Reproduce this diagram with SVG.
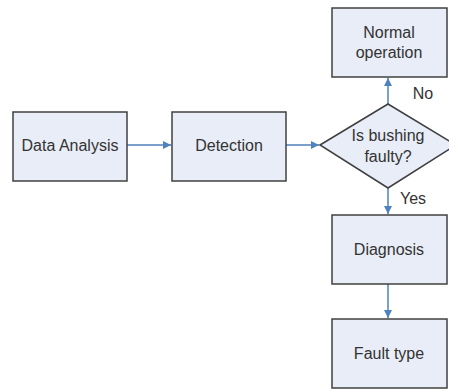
<svg xmlns="http://www.w3.org/2000/svg" width="449" height="389" viewBox="0 0 449 389">
<defs>
<style>
.box{fill:#e8edf7;stroke:#404040;stroke-width:1.5}
.t{font-family:"Liberation Sans",Arial,sans-serif;font-size:16px;fill:#333;text-anchor:middle}
.c{stroke:#4f81bd;stroke-width:1.5;fill:none}
</style>
<marker id="ah" viewBox="0 0 10 10" refX="10" refY="5" markerWidth="5.5" markerHeight="5.5" orient="auto" markerUnits="strokeWidth">
<path d="M0,0 L10,5 L0,10 Z" fill="#4f81bd"/>
</marker>
</defs>
<rect width="449" height="389" fill="#fff"/>
<g id="connectors">
<line class="c" x1="127" y1="145" x2="171" y2="145" marker-end="url(#ah)"/>
<line class="c" x1="286" y1="145" x2="319" y2="145" marker-end="url(#ah)"/>
<line class="c" x1="388" y1="104" x2="388" y2="78" marker-end="url(#ah)"/>
<line class="c" x1="388" y1="188" x2="388" y2="214" marker-end="url(#ah)"/>
<line class="c" x1="388" y1="284" x2="388" y2="318" marker-end="url(#ah)"/>
</g>
<g id="data-analysis">
<rect class="box" x="13" y="112" width="114" height="69"/>
<text class="t" x="70" y="151">Data Analysis</text>
</g>
<g id="detection">
<rect class="box" x="172" y="112" width="114" height="69"/>
<text class="t" x="229" y="151">Detection</text>
</g>
<g id="decision">
<polygon class="box" points="320,145 388,104 456,145 388,188"/>
<text class="t" x="388" y="141">Is bushing</text>
<text class="t" x="388" y="162">faulty?</text>
</g>
<g id="normal-operation">
<rect class="box" x="332" y="8" width="115" height="69"/>
<text class="t" x="389" y="38">Normal</text>
<text class="t" x="389" y="58">operation</text>
</g>
<g id="diagnosis">
<rect class="box" x="332" y="215" width="115" height="69"/>
<text class="t" x="389" y="255">Diagnosis</text>
</g>
<g id="fault-type">
<rect class="box" x="332" y="319" width="115" height="69"/>
<text class="t" x="389" y="359">Fault type</text>
</g>
<text class="t" x="423" y="99">No</text>
<text class="t" x="413" y="204">Yes</text>
</svg>
